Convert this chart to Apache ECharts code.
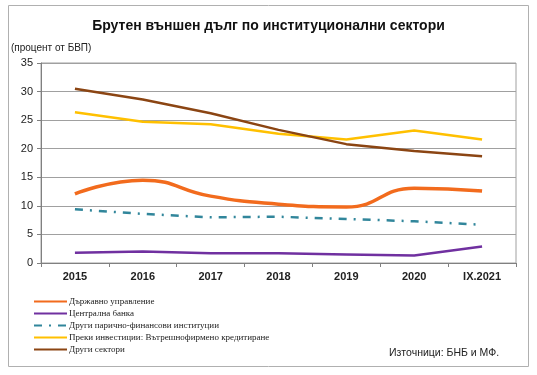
<!DOCTYPE html>
<html>
<head>
<meta charset="utf-8">
<script src="https://cdn.jsdelivr.net/npm/echarts@6/dist/echarts.min.js"></script>
<style>
  html, body { margin: 0; padding: 0; background: #fff; }
  #chart { width: 537px; height: 375px; }
</style>
</head>
<body>
<div id="chart"></div>
<script>
const years = ['2015', '2016', '2017', '2018', '2019', '2020', 'IX.2021']
const govt = [12.1, 14.5, 11.7, 10.3, 9.8, 13.1, 12.6]
const centralBank = [1.8, 2.0, 1.7, 1.7, 1.5, 1.3, 2.9]
const otherMfi = [9.4, 8.6, 8.0, 8.1, 7.7, 7.3, 6.7]
const fdiCredit = [26.4, 24.7, 24.3, 22.6, 21.6, 23.2, 21.6]
const otherSectors = [30.5, 28.6, 26.2, 23.3, 20.8, 19.6, 18.7]

const chart = echarts.init(document.getElementById('chart'))

const lineSeries = (name, data, color, width, extra) => Object.assign({
  name,
  type: 'line',
  data,
  symbol: 'none',
  lineStyle: { color, width },
  itemStyle: { color },
}, extra || {})

chart.setOption({
  animation: false,
  textStyle: { fontFamily: 'Liberation Sans, Arial, sans-serif' },
  title: [
    {
      text: 'Брутен външен дълг по институционални сектори',
      left: 'center',
      top: 14,
      textStyle: { fontSize: 14, fontWeight: 'bold', color: '#111' },
    },
    {
      text: '(процент от БВП)',
      left: 6,
      top: 38,
      textStyle: { fontSize: 10, fontWeight: 'normal', color: '#222' },
    },
    {
      text: 'Източници: БНБ и МФ.',
      left: 384,
      top: 343,
      textStyle: { fontSize: 10.5, fontWeight: 'normal', color: '#222' },
    },
  ],
  graphic: [
    {
      type: 'rect',
      shape: { x: 8.5, y: 5.5, width: 520, height: 361 },
      style: { fill: 'none', stroke: '#b0b0b0', lineWidth: 1 },
      silent: true,
    },
  ],
  legend: {
    orient: 'vertical',
    left: 28,
    top: 292,
    itemWidth: 33,
    itemHeight: 3,
    itemGap: 3,
    itemStyle: { opacity: 0 },
    textStyle: { fontFamily: 'Liberation Serif, serif', fontSize: 9, color: '#222', padding: [0, 0, 0, -3] },
    data: [
      'Държавно управление',
      'Централна банка',
      'Други парично-финансови институции',
      'Преки инвестиции: Вътрешнофирмено кредитиране',
      'Други сектори',
    ],
  },
  grid: { left: 41, right: 21, top: 63, bottom: 112, show: true, borderColor: '#a0a0a0', borderWidth: 1 },
  xAxis: {
    type: 'category',
    data: years,
    boundaryGap: true,
    axisLine: { lineStyle: { color: '#808080' } },
    axisTick: { show: true, length: 4, lineStyle: { color: '#808080' } },
    axisLabel: { color: '#222', fontSize: 11, fontWeight: 'bold', margin: 8 },
  },
  yAxis: {
    type: 'value',
    min: 0,
    max: 35,
    interval: 5,
    axisLine: { show: true, lineStyle: { color: '#808080' } },
    axisTick: { show: true, length: 4, lineStyle: { color: '#808080' } },
    axisLabel: { color: '#222', fontSize: 11, margin: 8 },
    splitLine: { lineStyle: { color: '#a0a0a0', width: 1 } },
  },
  series: [
    lineSeries('Държавно управление', govt, '#f26b1d', 3.5, { smooth: 0.5 }),
    lineSeries('Централна банка', centralBank, '#7030a0', 2.5),
    lineSeries('Други парично-финансови институции', otherMfi, '#31869b', 2.5, {
      lineStyle: { color: '#31869b', width: 2.5, type: [8, 7, 2, 7] },
    }),
    lineSeries('Преки инвестиции: Вътрешнофирмено кредитиране', fdiCredit, '#ffc000', 2.5),
    lineSeries('Други сектори', otherSectors, '#8b4513', 2.5),
  ],
})
</script>
</body>
</html>
